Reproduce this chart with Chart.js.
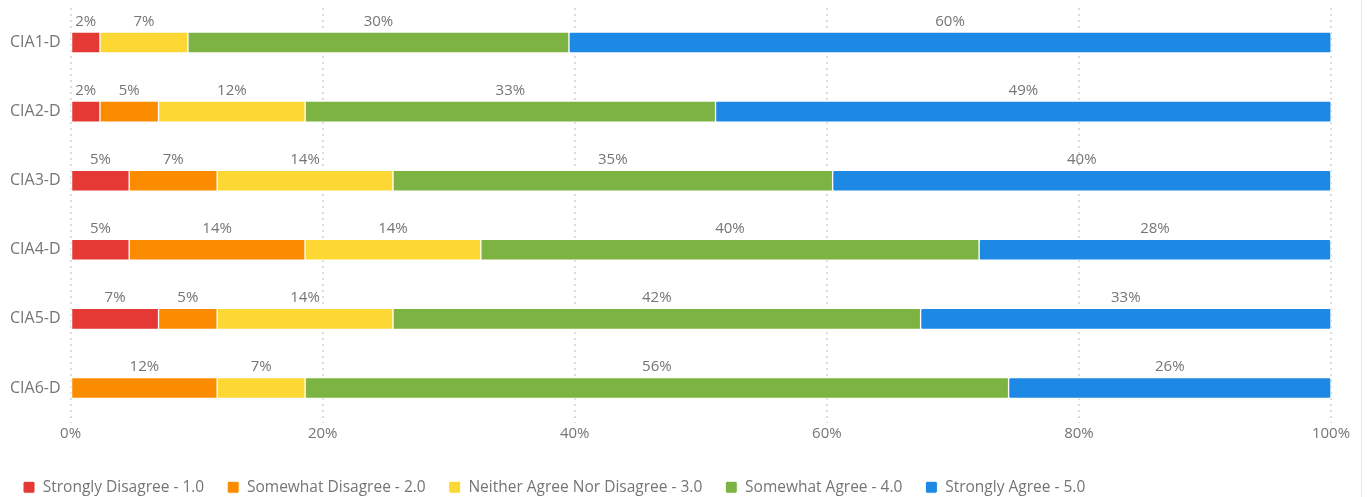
<!DOCTYPE html>
<html>
<head>
<meta charset="utf-8">
<script src="https://cdn.jsdelivr.net/npm/chart.js@4.4.1/dist/chart.umd.min.js"></script>
<style>
    html, body { margin: 0; padding: 0; background: #fff; }
    #wrap { width: 1361px; height: 497px; border-right: 1px solid #e6e6e6; position: relative; }
</style>
</head>
<body>
<div id="wrap"><canvas id="surveyChart"></canvas></div>
<script>
// Categories
const questions = ['CIA1-D', 'CIA2-D', 'CIA3-D', 'CIA4-D', 'CIA5-D', 'CIA6-D'];

// Percent of responses per answer
const stronglyDisagree = [2.33, 2.33, 4.65, 4.65, 6.98, 0];
const somewhatDisagree = [0, 4.65, 6.98, 13.95, 4.65, 11.63];
const neitherAgree = [6.98, 11.63, 13.95, 13.95, 13.95, 6.98];
const somewhatAgree = [30.23, 32.56, 34.88, 39.53, 41.86, 55.81];
const stronglyAgree = [60.47, 48.84, 39.53, 27.91, 32.56, 25.58];

// Axis ticks
const xTicks = [0, 20, 40, 60, 80, 100];

const seriesNames = [
    'Strongly Disagree - 1.0',
    'Somewhat Disagree - 2.0',
    'Neither Agree Nor Disagree - 3.0',
    'Somewhat Agree - 4.0',
    'Strongly Agree - 5.0'
];
const seriesColors = ['#E53935', '#FB8C00', '#FDD835', '#7CB342', '#1E88E5'];
const seriesData = [stronglyDisagree, somewhatDisagree, neitherAgree, somewhatAgree, stronglyAgree];

const FONT = "'Open Sans', 'Noto Sans', sans-serif";
const TEXT_GREY = '#757575';

// Percent labels above each segment
const segmentLabels = {
    id: 'segmentLabels',
    afterDatasetsDraw(chart) {
        const ctx = chart.ctx;
        ctx.save();
        ctx.font = `15px ${FONT}`;
        ctx.fillStyle = TEXT_GREY;
        ctx.textAlign = 'center';
        ctx.textBaseline = 'bottom';
        chart.data.datasets.forEach((ds, i) => {
            const meta = chart.getDatasetMeta(i);
            meta.data.forEach((bar, j) => {
                const v = ds.data[j];
                if (!v) return;
                const cx = (bar.x + bar.base) / 2;
                const top = bar.y - bar.height / 2;
                ctx.fillText(Math.round(v) + '%', cx, top - 3);
            });
        });
        ctx.restore();
    }
};

document.addEventListener('DOMContentLoaded', () => {
    const ctx = document.getElementById('surveyChart').getContext('2d');
    new Chart(ctx, {
        type: 'bar',
        data: {
            labels: questions,
            datasets: seriesData.map((data, i) => ({
                label: seriesNames[i],
                data: data,
                backgroundColor: seriesColors[i],
                borderColor: '#ffffff',
                borderWidth: 1,
                borderRadius: 2,
                borderSkipped: false,
                barThickness: 21
            }))
        },
        options: {
            indexAxis: 'y',
            responsive: true,
            maintainAspectRatio: false,
            animation: false,
            layout: {
                padding: { top: 8, left: 0, right: 30, bottom: -8 }
            },
            scales: {
                x: {
                    stacked: true,
                    min: 0,
                    max: 100,
                    afterBuildTicks: (scale) => {
                        scale.ticks = xTicks.map(v => ({ value: v }));
                    },
                    afterFit: (scale) => {
                        scale.height += 12;
                    },
                    border: { display: false, dash: [2, 4] },
                    grid: {
                        color: '#dcdcdc',
                        lineWidth: 2,
                        drawTicks: false
                    },
                    ticks: {
                        padding: 2,
                        color: TEXT_GREY,
                        font: { family: FONT, size: 15 },
                        callback: (v) => v + '%'
                    }
                },
                y: {
                    stacked: true,
                    afterFit: (scale) => {
                        // drop the half-label padding so the plot starts at the top
                        scale.paddingTop = 0;
                        scale.paddingBottom = 0;
                    },
                    border: { display: false },
                    grid: { display: false, drawTicks: false },
                    ticks: {
                        padding: 10,
                        color: TEXT_GREY,
                        font: { family: FONT, size: 16 }
                    }
                }
            },
            plugins: {
                legend: {
                    position: 'bottom',
                    align: 'start',
                    labels: {
                        boxWidth: 12,
                        boxHeight: 12,
                        useBorderRadius: true,
                        borderRadius: 2,
                        padding: 23,
                        color: TEXT_GREY,
                        font: { family: FONT, size: 15.5 }
                    }
                },
                tooltip: { enabled: false }
            }
        },
        plugins: [segmentLabels]
    });
});
</script>
</body>
</html>
